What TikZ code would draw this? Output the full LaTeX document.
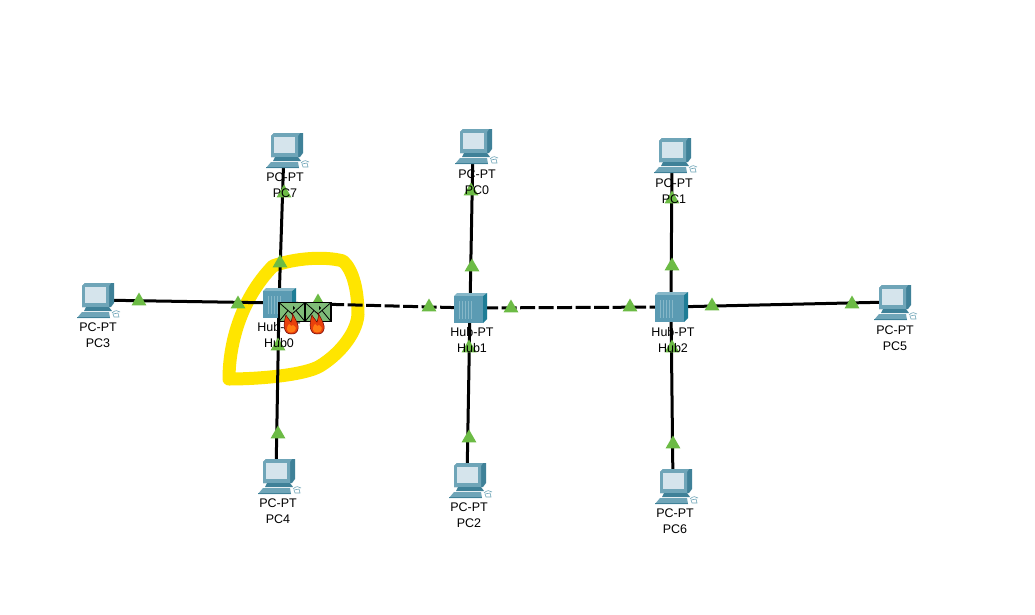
\documentclass[tikz,border=0pt]{standalone}
\usepackage{fontspec}
\setmainfont{Liberation Sans}
\usetikzlibrary{shapes.geometric}

\definecolor{hubfront}{HTML}{5B9BB3}
\definecolor{hubtop}{HTML}{86B7C8}
\definecolor{hubside}{HTML}{1E7D96}
\definecolor{pcbody}{HTML}{6FA5B8}
\definecolor{pcdark}{HTML}{3F8198}
\definecolor{pcscreen}{HTML}{D5E4EC}
\definecolor{packetgreen}{HTML}{7FBC78}
\definecolor{tracegreen}{HTML}{6CBB45}
\definecolor{markeryellow}{HTML}{FFE500}
\definecolor{flamered}{HTML}{E8400C}
\definecolor{flameorange}{HTML}{FF7A14}

\tikzset{
	devnode/.style={minimum size=26, inner sep=0},
	link/.style={line width=3, black},
	deadlink/.style={link, dash pattern=on 15 off 3.5},
	devlabel/.style={font=\fontsize{12.5}{16}\selectfont, align=center, text=black, inner sep=0},
	tracemark/.style={regular polygon, regular polygon sides=3, fill=tracegreen, minimum size=17, inner sep=0},
	pcicon/.pic={
			\fill[pcdark] (-13,-14) -- (-10,-17) -- (19,-17) -- (19,3) -- (16,7) -- (-13,7) -- cycle;
			\fill[pcbody] (-13,-14) -- (-10,-17) -- (16,-17) -- (14,-14) -- (14,7) -- (-13,7) -- cycle;
			\fill[pcscreen] (-10,-13) rectangle (11,3);
			\fill[pcdark] (-9,7) -- (14,7) -- (17,11) -- (-11,11) -- cycle;
			\fill[pcbody] (-13,12) -- (14,12) -- (15,18) -- (-18,18) -- cycle;
			\fill[pcdark] (-18,16.5) rectangle (15,18);
			\draw[pcbody, line width=0.6] (17,13) .. controls (20,10) and (23,10) .. (25,12);
			\fill[white, draw=pcbody, line width=0.6] (18,14) -- (23,13) -- (24,17) -- (19,17) -- cycle;
		},
	hubicon/.pic={
			\fill[hubtop] (-16,-12) -- (-13,-15) -- (17,-15) -- (13,-12) -- cycle;
			\fill[hubside] (13,-12) -- (17,-15) -- (17,11) -- (13,15) -- cycle;
			\fill[hubfront] (-16,-12) rectangle (13,15);
			\foreach \s in {-11,-8,-5,-2,1}
				\draw[hubtop, line width=0.8] (\s,-7) -- (\s,11);
		},
	firemail/.pic={
			\fill[packetgreen, draw=black, line width=1.5] (-13,-9.5) rectangle (13,9.5);
			\draw[black, line width=0.8] (-13,-9.5) -- (0,2) -- (13,-9.5) (-13,9.5) -- (-4,-1.5) (13,9.5) -- (4,-1.5);
			\fill[black] (1,-6) -- (3,-4) -- (1,-2) -- cycle;
			\fill[flamered, draw=black!60!red, line width=0.5] (-1,22) .. controls (-9,22) and (-9,12) .. (-6,3) .. controls (-4,7) and (-2,8) .. (-1,10) .. controls (0,6) and (1,5) .. (0,1) .. controls (4,8) and (7,13) .. (6,17) .. controls (5,21) and (3,22) .. (-1,22) -- cycle;
			\fill[flameorange] (-1,20.5) .. controls (-6,20.5) and (-6,15) .. (-3,12) .. controls (-1,14) and (0,15) .. (1,13) .. controls (4,15) and (5,17) .. (3,19) .. controls (2,20) and (0,20.5) .. (-1,20.5) -- cycle;
		}
}

\begin{document}
\begin{tikzpicture}[x=1pt, y=-1pt]

	\useasboundingbox (0,0) rectangle (1035,615);

	\fill[white] (0,0) rectangle (1035,615);

	% marker round the broken hub
	\draw[markeryellow, line width=13, line join=round, line cap=round]
	(229,379) .. controls (229,345) and (240,300) .. (273,266)
	.. controls (295,258) and (325,256) .. (343,261)
	.. controls (353,270) and (358,290) .. (358,315)
	.. controls (356,335) and (338,355) .. (320,366)
	.. controls (305,375) and (260,379) .. (229,379) -- cycle;

	\node[devnode] (hub0) at (279,303) {};
	\node[devnode] (hub1) at (470,308) {};
	\node[devnode] (hub2) at (671,307) {};
	\node[devnode] (pc0) at (473,146) {};
	\node[devnode] (pc1) at (672,155) {};
	\node[devnode] (pc2) at (467,480) {};
	\node[devnode] (pc3) at (95,300) {};
	\node[devnode] (pc4) at (276,476) {};
	\node[devnode] (pc5) at (892,302) {};
	\node[devnode] (pc6) at (673,486) {};
	\node[devnode] (pc7) at (284,150) {};

	\foreach \a/\b in {pc7/hub0, pc3/hub0, pc4/hub0, pc0/hub1, pc2/hub1, pc1/hub2, pc6/hub2, pc5/hub2}
		\draw[link] (\a) -- (\b);
	\draw[deadlink] (hub0) -- (hub1);
	\draw[deadlink] (hub1) -- (hub2);

	\foreach \n in {hub0,hub1,hub2}
		\pic at (\n) {hubicon};
	\foreach \n in {pc0,pc1,pc2,pc3,pc4,pc5,pc6,pc7}
		\pic at (\n) {pcicon};

	\foreach \i/\x/\y in {a/139/301, b/238/304, c/280/263, d/278/434, e/318/302, f/278/346, g/284/193,
			h/472/267, j/469/438, k/429/307, l/511/308, m/471/191, n/469/348,
			o/630/307, p/712/306, q/672/266, r/673/444, s/672/199, t/672/348, u/852/304}
		\node[tracemark] (mark\i) at (\x,\y) {};

	\node[devlabel] (pc7label) at (285,185) {PC-PT\\PC7};
	\node[devlabel] (pc3label) at (98,335) {PC-PT\\PC3};
	\node[devlabel] (pc4label) at (278,511) {PC-PT\\PC4};
	\node[devlabel] (pc0label) at (477,182) {PC-PT\\PC0};
	\node[devlabel] (pc2label) at (469,515) {PC-PT\\PC2};
	\node[devlabel] (pc1label) at (674,191) {PC-PT\\PC1};
	\node[devlabel] (pc6label) at (675,521) {PC-PT\\PC6};
	\node[devlabel] (pc5label) at (895,338) {PC-PT\\PC5};
	\node[devlabel] (hub0label) at (279,335) {Hub-PT\\Hub0};
	\node[devlabel] (hub1label) at (472,340) {Hub-PT\\Hub1};
	\node[devlabel] (hub2label) at (673,340) {Hub-PT\\Hub2};

	\pic at (292,312) {firemail};
	\pic at (318,312) {firemail};

\end{tikzpicture}
\end{document}
